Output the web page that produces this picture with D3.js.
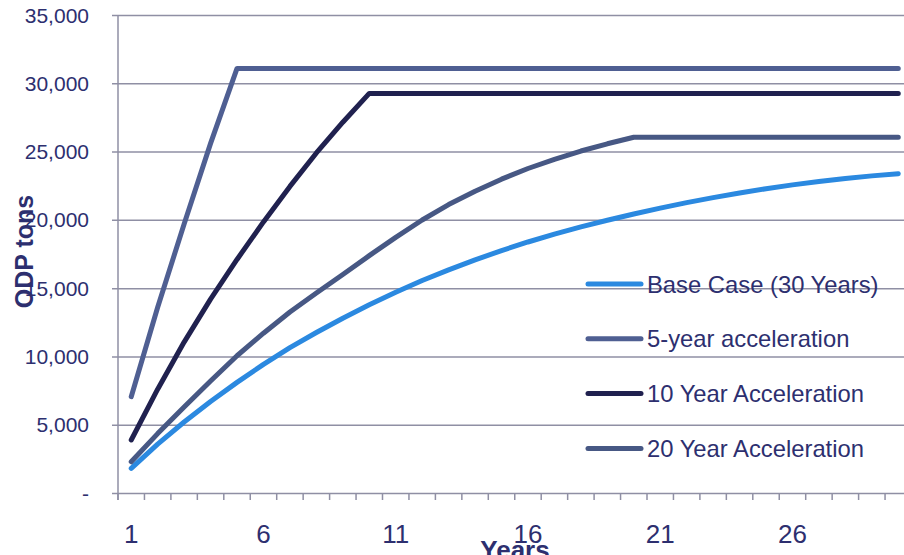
<!DOCTYPE html>
<html>
<head>
<meta charset="utf-8">
<script src="https://cdn.jsdelivr.net/npm/d3@7"></script>
<style>
  html, body { margin: 0; padding: 0; background: #ffffff; overflow: hidden; }
  svg { display: block; font-family: "Liberation Sans", Arial, sans-serif; }
</style>
</head>
<body>
<svg id="chart" width="904" height="555"></svg>
<script>
// Years on the horizontal axis
const years = [1, 2, 3, 4, 5, 6, 7, 8, 9, 10, 11, 12, 13, 14, 15,
               16, 17, 18, 19, 20, 21, 22, 23, 24, 25, 26, 27, 28, 29, 30];

// Labelled years and value ticks
const yearLabels = [1, 6, 11, 16, 21, 26];
const valueTicks = [0, 5000, 10000, 15000, 20000, 25000, 30000, 35000];

// ODP tons per year for each phase-out scenario
const baseCase = [1800, 3580, 5200, 6700, 8100, 9420, 10650, 11750, 12800, 13780,
                  14700, 15560, 16340, 17070, 17750, 18380, 18960, 19490, 19970, 20430,
                  20860, 21260, 21630, 21970, 22280, 22560, 22810, 23030, 23220, 23380];
const accel5 = [7050, 13600, 19700, 25600, 31090, 31090, 31090, 31090, 31090, 31090,
                31090, 31090, 31090, 31090, 31090, 31090, 31090, 31090, 31090, 31090,
                31090, 31090, 31090, 31090, 31090, 31090, 31090, 31090, 31090, 31090];
const accel10 = [3880, 7600, 11050, 14200, 17100, 19850, 22450, 24900, 27150, 29260,
                 29260, 29260, 29260, 29260, 29260, 29260, 29260, 29260, 29260, 29260,
                 29260, 29260, 29260, 29260, 29260, 29260, 29260, 29260, 29260, 29260];
const accel20 = [2290, 4350, 6300, 8200, 10050, 11700, 13250, 14650, 16000, 17380,
                 18720, 19990, 21120, 22100, 22980, 23760, 24430, 25040, 25570, 26050,
                 26050, 26050, 26050, 26050, 26050, 26050, 26050, 26050, 26050, 26050];

const seriesNames = ["Base Case (30 Years)", "5-year acceleration", "10 Year Acceleration", "20 Year Acceleration"];
const seriesColors = ["#2b89e0", "#4f5f92", "#20214f", "#475884"];

const series = [baseCase, accel5, accel10, accel20].map((values, i) => ({
  name: seriesNames[i],
  color: seriesColors[i],
  values: values.map((v, j) => ({ year: years[j], value: v }))
}));

const textColor = "#2d2f6f";
const gridColor = "#8f8fa4";

const svg = d3.select("#chart");
const plotLeft = 118, plotRight = 911.5, plotTop = 15, plotBottom = 493;

const x = d3.scaleBand().domain(years).range([plotLeft, plotRight]).paddingInner(0).paddingOuter(0);
const xc = d => x(d) + x.bandwidth() / 2;
const y = d3.scaleLinear().domain([0, 35000]).range([plotBottom, plotTop]);

// Horizontal gridlines with short outside ticks
const yAxis = d3.axisLeft(y)
  .tickValues(valueTicks)
  .tickSize(-(plotRight - plotLeft))
  .tickPadding(0)
  .tickFormat(() => "");
svg.append("g")
  .attr("transform", `translate(${plotLeft},0)`)
  .call(yAxis)
  .call(g => g.select(".domain").remove())
  .call(g => g.selectAll(".tick line")
    .attr("x1", -6)
    .attr("stroke", gridColor)
    .attr("stroke-width", 1.5));

// Value labels
svg.append("g")
  .selectAll("text")
  .data(valueTicks)
  .join("text")
  .attr("x", 89)
  .attr("y", d => y(d) + 7.5)
  .attr("text-anchor", "end")
  .attr("fill", textColor)
  .attr("font-size", 21)
  .text(d => d === 0 ? "-" : d3.format(",")(d));

// Vertical axis line
svg.append("line")
  .attr("x1", plotLeft).attr("x2", plotLeft)
  .attr("y1", plotTop).attr("y2", plotBottom + 7)
  .attr("stroke", gridColor).attr("stroke-width", 1.5);

// Year boundary ticks below the base line
const boundaries = years.map(d => x(d)).concat([plotRight]);
svg.append("g")
  .selectAll("line")
  .data(boundaries)
  .join("line")
  .attr("x1", d => d).attr("x2", d => d)
  .attr("y1", plotBottom).attr("y2", plotBottom + 7)
  .attr("stroke", gridColor).attr("stroke-width", 1.5);

// Year labels
svg.append("g")
  .selectAll("text")
  .data(yearLabels)
  .join("text")
  .attr("x", d => xc(d))
  .attr("y", 543)
  .attr("text-anchor", "middle")
  .attr("fill", textColor)
  .attr("font-size", 26)
  .text(d => d);

// Scenario lines
const line = d3.line()
  .x(d => xc(d.year))
  .y(d => y(d.value));

svg.append("g")
  .selectAll("path")
  .data(series)
  .join("path")
  .attr("d", d => line(d.values))
  .attr("fill", "none")
  .attr("stroke", d => d.color)
  .attr("stroke-width", 5)
  .attr("stroke-linecap", "round")
  .attr("stroke-linejoin", "round");

// Legend
const legend = svg.append("g")
  .selectAll("g")
  .data(series)
  .join("g")
  .attr("transform", (d, i) => `translate(588,${284 + i * 54.8})`);
legend.append("line")
  .attr("x1", 0).attr("x2", 53)
  .attr("stroke", d => d.color)
  .attr("stroke-width", 5)
  .attr("stroke-linecap", "round");
legend.append("text")
  .attr("x", 59)
  .attr("y", 8.5)
  .attr("fill", textColor)
  .attr("font-size", 23.8)
  .text(d => d.name);

// Axis titles
svg.append("text")
  .attr("transform", "translate(32.5,251.5) rotate(-90)")
  .attr("text-anchor", "middle")
  .attr("fill", textColor)
  .attr("font-size", 25)
  .attr("font-weight", "bold")
  .text("ODP tons");

svg.append("text")
  .attr("x", 515)
  .attr("y", 559)
  .attr("text-anchor", "middle")
  .attr("fill", textColor)
  .attr("font-size", 26)
  .attr("font-weight", "bold")
  .text("Years");
</script>
</body>
</html>
